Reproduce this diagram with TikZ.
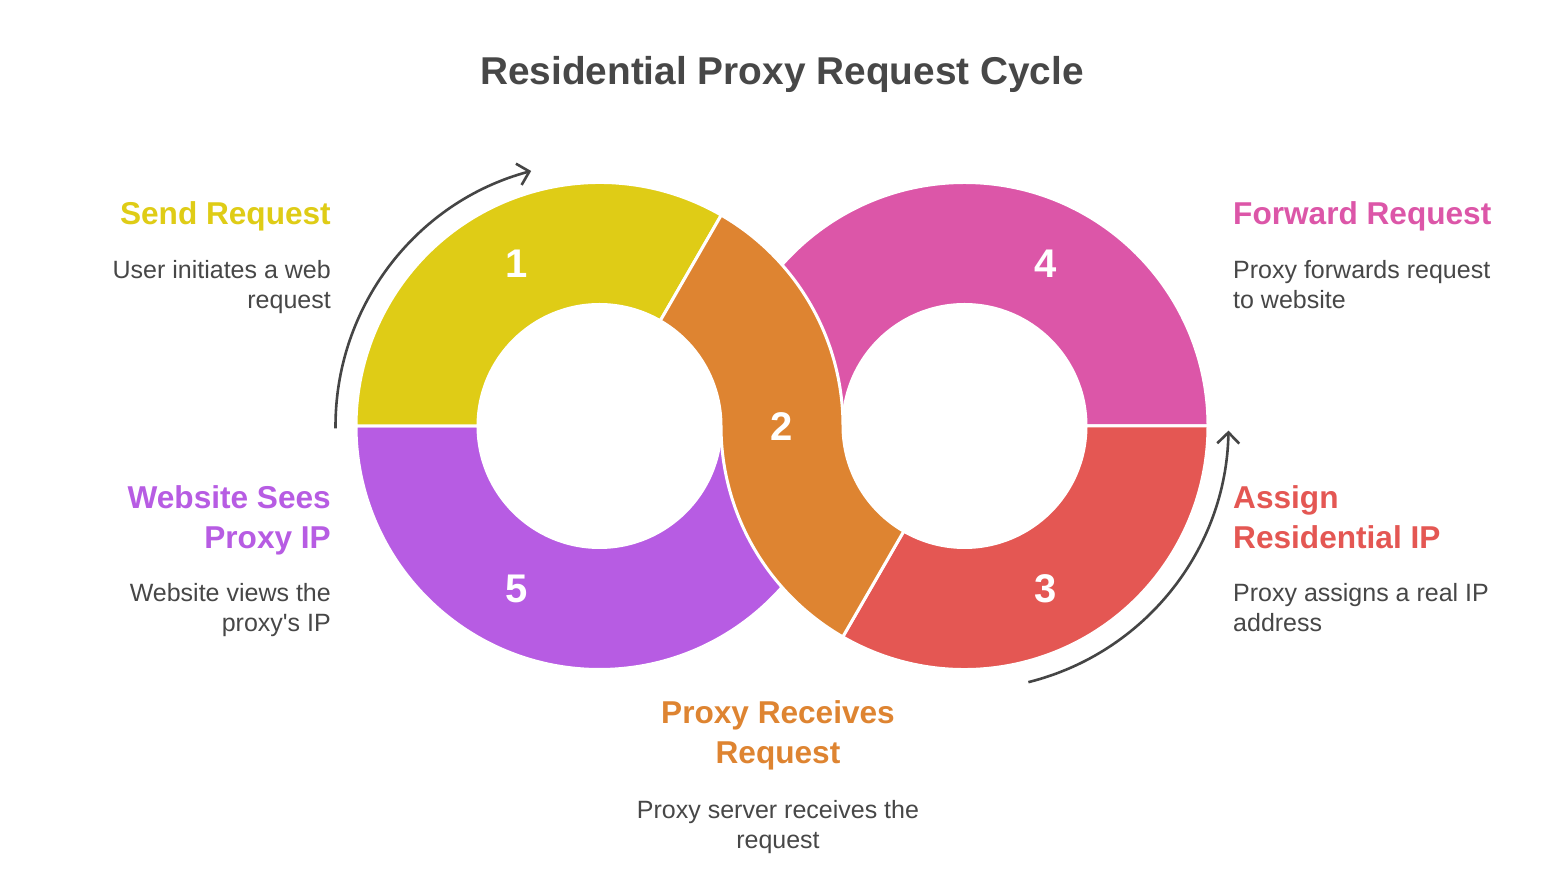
\documentclass[tikz,border=0pt]{standalone}
\usepackage{fontspec}
\setmainfont{Liberation Sans}
\usetikzlibrary{arrows.meta}
\definecolor{cY}{HTML}{DFCC16}
\definecolor{cO}{HTML}{DE8431}
\definecolor{cP}{HTML}{DC56A8}
\definecolor{cR}{HTML}{E45753}
\definecolor{cV}{HTML}{B75CE3}
\definecolor{txtc}{HTML}{474747}
\definecolor{arrc}{HTML}{454545}
\newcommand{\ringsector}[4]{%
  \filldraw[segstyle, fill=#1] ([shift={(#3:243.5pt)}]#2) arc[start angle=#3, end angle=#4, radius=243.5pt]
    -- ([shift={(#4:121.5pt)}]#2) arc[start angle=#4, end angle=#3, radius=121.5pt] -- cycle;}
\tikzset{
  segstyle/.style={draw=white, line width=3pt, line join=round},
  arrstyle/.style={draw=arrc, line width=2.6pt, -{Straight Barb[length=11pt,width=22pt]}},
  headtxt/.style={inner sep=0pt, font=\bfseries\fontsize{31.6}{40}\selectfont},
  bodytxt/.style={inner sep=0pt, text=txtc, font=\fontsize{25}{30}\selectfont},
  numtxt/.style={inner sep=0pt, text=white, font=\bfseries\fontsize{40}{48}\selectfont, anchor=base},
}
\begin{document}
\begin{tikzpicture}[x=1pt, y=1pt]
\fill[white] (0,0) rectangle (1568,886);
\useasboundingbox (0,0) rectangle (1568,886);
\coordinate (L) at (599.5,460);
\coordinate (Rc) at (964.5,460);
% segments
\ringsector{cP}{Rc}{0}{180}
\ringsector{cR}{Rc}{-120}{0}
\ringsector{cV}{L}{180}{360}
\ringsector{cY}{L}{60}{180}
\filldraw[segstyle, fill=cO] ([shift={(60:121.5pt)}]L) -- ([shift={(60:243.5pt)}]L)
  arc[start angle=60, end angle=0, radius=243.5pt]
  -- ([shift={(180:121.5pt)}]Rc) arc[start angle=180, end angle=240, radius=121.5pt]
  -- ([shift={(240:243.5pt)}]Rc) arc[start angle=240, end angle=180, radius=243.5pt]
  -- ([shift={(0:121.5pt)}]L) arc[start angle=0, end angle=60, radius=121.5pt] -- cycle;
% numbers
\node[numtxt] (n1) at (516.5,608) {1};
\node[numtxt] (n2) at (781.5,445) {2};
\node[numtxt] (n3) at (1046,283) {3};
\node[numtxt] (n4) at (1046,608) {4};
\node[numtxt] (n5) at (517,283) {5};
% arrows
\coordinate (a1s) at ([shift={(180.5:264pt)}]L);
\draw[arrstyle] (a1s) arc[start angle=180.5, end angle=105, radius=264pt];
\coordinate (a2s) at ([shift={(-76:264pt)}]Rc);
\draw[arrstyle] (a2s) arc[start angle=-76, end angle=-1, radius=264pt];
% title
\node[inner sep=0pt, text=txtc, font=\bfseries\fontsize{38.8}{46}\selectfont, anchor=base] (title) at (782,801) {Residential Proxy Request Cycle};
% left labels
\node[headtxt, text=cY, anchor=base east, align=right] (h1) at (331,661) {Send Request};
\node[bodytxt, anchor=base east, align=right] (b1) at (331,577) {User initiates a web\\request};
\node[headtxt, text=cV, anchor=base east, align=right] (h5) at (331,337) {Website Sees\\Proxy IP};
\node[bodytxt, anchor=base east, align=right] (b5) at (331,254) {Website views the\\proxy\textquotesingle s IP};
% right labels
\node[headtxt, text=cP, anchor=base west, align=left] (h4) at (1233,661) {Forward Request};
\node[bodytxt, anchor=base west, align=left] (b4) at (1233,577) {Proxy forwards request\\to website};
\node[headtxt, text=cR, anchor=base west, align=left] (h3) at (1233,337) {Assign\\Residential IP};
\node[bodytxt, anchor=base west, align=left] (b3) at (1233,254) {Proxy assigns a real IP\\address};
% bottom labels
\node[headtxt, text=cO, anchor=base, align=center] (h2) at (778,122.7) {Proxy Receives\\Request};
\node[bodytxt, anchor=base, align=center] (b2) at (778,37.7) {Proxy server receives the\\request};
\end{tikzpicture}
\end{document}
